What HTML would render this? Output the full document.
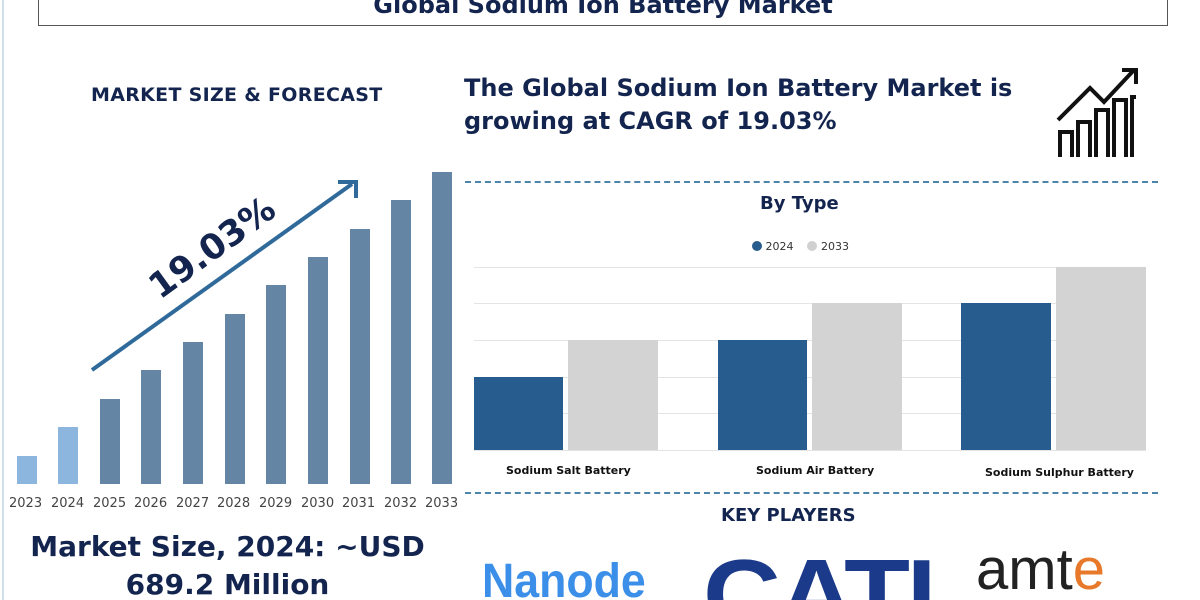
<!DOCTYPE html><html><head><style>
html,body{margin:0;width:1200px;height:600px;overflow:hidden}
body{background:#fff;font-family:"DejaVu Sans","Liberation Sans",sans-serif;position:relative}
.a{position:absolute}
.b{position:absolute;width:20px;background:#6585a5}
.t{position:absolute;font-weight:bold;color:#13254f}
</style></head><body>
<div class="a" style="left:2px;top:0;width:2px;height:600px;background:#cfe0ea"></div>
<div class="a" style="left:38px;top:-10px;width:1128px;height:35px;border:1.5px solid #555;border-top:none"></div>
<div class="t" style="left:38px;width:1130px;top:-9px;text-align:center;font-size:24px">Global Sodium Ion Battery Market</div>
<div class="t" style="left:91px;top:84px;font-size:19px;letter-spacing:0.3px">MARKET SIZE &amp; FORECAST</div>
<div class="t" style="left:464px;top:72px;font-size:24px;line-height:33px">The Global Sodium Ion Battery Market is<br>growing at CAGR of 19.03%</div>
<svg class="a" style="left:1050px;top:62px" width="95" height="100"><g fill="none" stroke="#111" stroke-width="4"><path d="M10 95V70h12v25M28 95V60h12v35M46 95V48h12v47M64 95V38h12v57M82 95V35h4"/><path d="M8 58L40 26l14 14L84 8"/><path d="M72 8h14v14"/></g></svg>
<div class="b" style="left:17px;top:456px;height:28px;background:#8db6df"></div>
<div class="b" style="left:58px;top:427px;height:57px;background:#8db6df"></div>
<div class="b" style="left:100px;top:399px;height:85px"></div>
<div class="b" style="left:141px;top:370px;height:114px"></div>
<div class="b" style="left:183px;top:342px;height:142px"></div>
<div class="b" style="left:225px;top:314px;height:170px"></div>
<div class="b" style="left:266px;top:285px;height:199px"></div>
<div class="b" style="left:308px;top:257px;height:227px"></div>
<div class="b" style="left:350px;top:229px;height:255px"></div>
<div class="b" style="left:391px;top:200px;height:284px"></div>
<div class="b" style="left:432px;top:172px;height:312px"></div>
<div class="a" style="left:9px;top:496px;font-size:13px;color:#444">
<span style="position:absolute;left:0">2023</span><span style="position:absolute;left:42px">2024</span><span style="position:absolute;left:84px">2025</span><span style="position:absolute;left:125px">2026</span><span style="position:absolute;left:167px">2027</span><span style="position:absolute;left:208px">2028</span><span style="position:absolute;left:250px">2029</span><span style="position:absolute;left:292px">2030</span><span style="position:absolute;left:333px">2031</span><span style="position:absolute;left:375px">2032</span><span style="position:absolute;left:416px">2033</span></div>
<svg class="a" style="left:0;top:0" width="460" height="400"><path d="M92 370L352 184" stroke="#2f6a9a" stroke-width="4"/><path d="M338 182h18v16" fill="none" stroke="#2f6a9a" stroke-width="4"/>
<text x="0" y="0" transform="translate(160,300) rotate(-36)" font-family="DejaVu Sans" font-weight="bold" font-size="35" fill="#13254f">19.03%</text></svg>
<div class="t" style="left:0;width:455px;text-align:center;top:528px;font-size:28px;line-height:38px">Market Size, 2024: ~USD<br>689.2 Million</div>
<div class="a" style="left:465px;top:181px;width:693px;border-top:2px dashed #4d84aa"></div>
<div class="a" style="left:465px;top:492px;width:693px;border-top:2px dashed #4d84aa"></div>
<div class="t" style="left:760px;top:193px;font-size:18px">By Type</div>
<div class="a" style="left:752px;top:240px;font-size:11px;color:#333"><span style="display:inline-block;width:10px;height:10px;border-radius:5px;background:#275c8e;vertical-align:-1px"></span> 2024 &nbsp;&nbsp;&nbsp;<span style="display:inline-block;width:10px;height:10px;border-radius:5px;background:#d0d0d0;vertical-align:-1px"></span> 2033</div>
<svg class="a" style="left:0;top:0" width="1200" height="600"><g stroke="#e4e4e4"><path d="M474 267.5H1146M474 303.5H1146M474 340.5H1146M474 377.5H1146M474 413.5H1146M474 450.5H1146"/></g>
<g fill="#275c8e"><rect x="474" y="377" width="89" height="73"/><rect x="718" y="340" width="89" height="110"/><rect x="961" y="303" width="90" height="147"/></g>
<g fill="#d3d3d3"><rect x="568" y="340" width="90" height="110"/><rect x="812" y="303" width="90" height="147"/><rect x="1056" y="267" width="90" height="183"/></g></svg>
<div class="a" style="left:506px;top:464px;font-size:11px;font-weight:bold;color:#111">Sodium Salt Battery</div>
<div class="a" style="left:756px;top:464px;font-size:11px;font-weight:bold;color:#111">Sodium Air Battery</div>
<div class="a" style="left:985px;top:466px;font-size:11px;font-weight:bold;color:#111">Sodium Sulphur Battery</div>
<div class="t" style="left:721px;top:505px;font-size:18px">KEY PLAYERS</div>
<div class="a" style="left:482px;top:554px;font-size:48px;font-weight:bold;color:#3b8fe8;font-family:'Liberation Sans',sans-serif;transform:scaleX(0.93);transform-origin:left">Nanode</div>
<div class="a" style="left:703px;top:538px;font-size:98px;font-weight:bold;color:#1c3a8a;font-family:'Liberation Sans',sans-serif;letter-spacing:-3px;transform:scaleX(1.1);transform-origin:left">CATL</div>
<div class="a" style="left:976px;top:536px;font-size:58px;color:#222;font-family:'Liberation Sans',sans-serif">amt<span style="color:#e8782a">e</span></div>
</body></html>
